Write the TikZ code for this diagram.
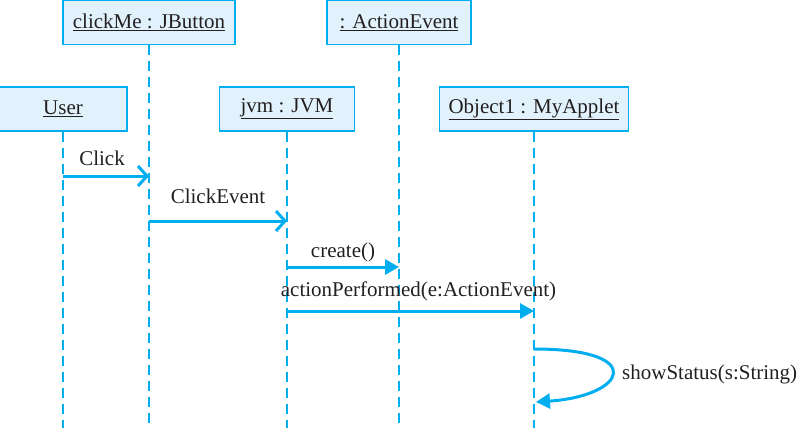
\documentclass[tikz,border=0pt]{standalone}
\usepackage{fontspec}
\setmainfont{Liberation Serif}
\usetikzlibrary{arrows.meta}
\definecolor{seqblue}{RGB}{0,174,239}
\definecolor{seqfill}{RGB}{225,242,252}
\definecolor{seqtext}{RGB}{35,31,32}
\tikzset{
  obj/.style={draw=seqblue, fill=seqfill, line width=1.6pt, minimum height=44pt, inner sep=0pt, text=seqtext},
  lifeline/.style={draw=seqblue, line width=1.4pt, dash pattern=on 10pt off 6pt},
  call/.style={draw=seqblue, line width=3pt, -{Straight Barb[length=9pt,width=20pt]}},
  msg/.style={draw=seqblue, line width=3pt, -{Triangle[length=14pt,width=15pt]}},
  lbl/.style={text=seqtext, inner sep=0pt, anchor=base}
}

\begin{document}
\begin{tikzpicture}[x=1pt, y=-1pt, font=\fontsize{21}{25}\selectfont]
  \useasboundingbox (0,0) rectangle (800,428);
  % objects
  \node[obj, minimum width=172pt] (button) at (149,22.5) {\underline{clickMe : JButton}};
  \node[obj, minimum width=144pt] (event) at (399,22.5) {\underline{: ActionEvent}};
  \node[obj, minimum width=128pt] (user) at (63,109) {\underline{User}};
  \node[obj, minimum width=135pt] (jvm) at (287,109) {\underline{jvm : JVM}};
  \node[obj, minimum width=189pt] (applet) at (534,109) {\underline{Object1 : MyApplet}};
  % lifelines
  \coordinate (bottom) at (0,428);
  \foreach \o in {button,event,user,jvm,applet}
    \draw[lifeline] (\o.south) -- (\o.south |- bottom);
  % message levels
  \coordinate (yclick) at (0,176);
  \coordinate (yevent) at (0,221);
  \coordinate (ycreate) at (0,267);
  \coordinate (yaction) at (0,311);
  \coordinate (yloopa) at (0,349);
  \coordinate (yloopb) at (0,402);
  % messages
  \draw[call] (user.south |- yclick) -- (button.south |- yclick)
    node[lbl, midway, xshift=-4pt, yshift=11pt] {Click};
  \draw[call] (button.south |- yevent) -- (jvm.south |- yevent)
    node[lbl, midway, yshift=18pt] {ClickEvent};
  \draw[msg] (jvm.south |- ycreate) -- (event.south |- ycreate)
    node[lbl, midway, yshift=10pt] {create()};
  \draw[msg] (jvm.south |- yaction) -- (applet.south |- yaction)
    node[lbl, midway, xshift=8pt, yshift=15pt] {actionPerformed(e:ActionEvent)};
  \draw[msg] (applet.south |- yloopa) .. controls +(115,0) and +(90,-6) .. ([xshift=2pt]applet.south |- yloopb);
  \node[lbl, anchor=base west] (status) at (622,379) {showStatus(s:String)};
\end{tikzpicture}
\end{document}
